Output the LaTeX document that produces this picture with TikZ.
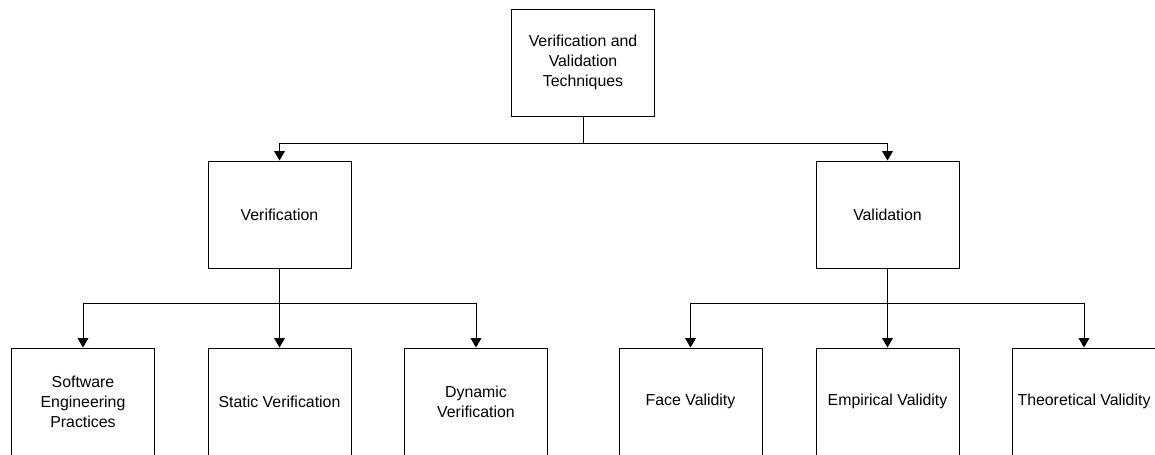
\documentclass[tikz,border=0pt]{standalone}
\usepackage{fontspec}
\setmainfont{Liberation Sans}
\usetikzlibrary{arrows.meta,positioning,calc}

\begin{document}
\begin{tikzpicture}[x=0.75pt, y=-0.75pt,
    vvbox/.style={draw, line width=0.75pt, minimum width=107.25pt, minimum height=80.25pt,
        align=center, font=\fontsize{11.9pt}{15pt}\selectfont},
    link/.style={line width=0.75pt},
    linkarrow/.style={line width=0.75pt, -{Triangle[width=8pt,length=7pt]}}]

\useasboundingbox (0,0) rectangle (1155,454);

% Root
\node[vvbox] (root) at (583,62.7) {Verification and\\Validation\\Techniques};

% Second level
\node[vvbox] (verif) at (279.5,214.5) {Verification};
\node[vvbox] (valid) at (887.5,214.5) {Validation};

% Third level (verification side)
\node[vvbox] (swep) at (83,401.5) {Software\\Engineering\\Practices};
\node[vvbox] (static) at (279.5,401.5) {Static Verification};
\node[vvbox] (dynamic) at (476,401.5) {Dynamic\\Verification};

% Third level (validation side)
\node[vvbox] (face) at (690.5,401.5) {Face Validity};
\node[vvbox] (empirical) at (887.5,401.5) {Empirical Validity};
\node[vvbox] (theory) at (1084,401.5) {Theoretical Validity};

% Bus points
\coordinate (busroot) at (583,143);
\coordinate (busverif) at (279.5,303);
\coordinate (busvalid) at (887.5,303);

% Root to second level
\draw[link] (root.south) -- (busroot);
\draw[linkarrow] (busroot) -| (verif.north);
\draw[linkarrow] (busroot) -| (valid.north);

% Verification to its children
\draw[link] (verif.south) -- (busverif);
\draw[linkarrow] (busverif) -| (swep.north);
\draw[linkarrow] (busverif) -- (static.north);
\draw[linkarrow] (busverif) -| (dynamic.north);

% Validation to its children
\draw[link] (valid.south) -- (busvalid);
\draw[linkarrow] (busvalid) -| (face.north);
\draw[linkarrow] (busvalid) -- (empirical.north);
\draw[linkarrow] (busvalid) -| (theory.north);

\end{tikzpicture}
\end{document}
